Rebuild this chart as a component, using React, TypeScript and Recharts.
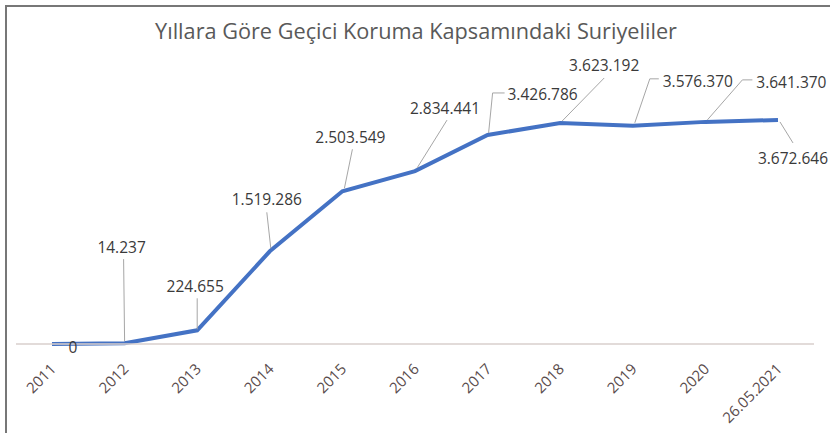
import React from 'react';
import { LineChart, Line, XAxis, YAxis, LabelList } from 'recharts';

const TITLE = 'Yıllara Göre Geçici Koruma Kapsamındaki Suriyeliler';
const categories = ['2011', '2012', '2013', '2014', '2015', '2016', '2017', '2018', '2019', '2020', '26.05.2021'];
const values = [0, 14237, 224655, 1519286, 2503549, 2834441, 3426786, 3623192, 3576370, 3641370, 3672646];

const data = categories.map((c, i) => ({ year: c, value: values[i] }));

const fmt = (v: number) => String(v).replace(/\B(?=(\d{3})+(?!\d))/g, '.');

// label layout: text centre offset from point, and leader polyline (relative to point)
const LABEL_LAYOUT: { dx: number; dy: number; leader: [number, number][] }[] = [
  { dx: 21, dy: 3, leader: [] },
  { dx: -3, dy: -96, leader: [[-1, -84], [0, -2]] },
  { dx: -2, dy: -44, leader: [[0, -32], [0, -1]] },
  { dx: -3, dy: -52, leader: [[-3, -39], [1, -3]] },
  { dx: 8, dy: -54, leader: [[10, -42], [2, -3]] },
  { dx: 30, dy: -63, leader: [[32, -51], [2, -3]] },
  { dx: 55, dy: -41, leader: [[17, -42], [5, -42], [1, -2]] },
  { dx: 44, dy: -58, leader: [[44, -45], [2, -2]] },
  { dx: 65, dy: -45, leader: [[26, -47], [17, -47], [2, -3]] },
  { dx: 86, dy: -40, leader: [[47, -42], [37, -42], [2, -2]] },
  { dx: 15, dy: 38, leader: [[2, 2], [15, 23]] },
];

const DataLabel = (props: any) => {
  const { x, y, value, index } = props;
  const l = LABEL_LAYOUT[index];
  if (!l || x == null || y == null) return null;
  const pts = l.leader.map(([a, b]) => `${x + a},${y + b}`).join(' ');
  return (
    <g>
      {l.leader.length > 0 && (
        <polyline points={pts} fill="none" stroke="#a6a6a6" strokeWidth={1} />
      )}
      <text
        x={x + l.dx}
        y={y + l.dy}
        textAnchor="middle"
        dominantBaseline="central"
        fill="#3a3a3a"
        fontSize={15.5}
        fontFamily="'Open Sans', sans-serif"
      >
        {fmt(value)}
      </text>
    </g>
  );
};

const Tick = (props: any) => {
  const { x, y, payload } = props;
  const tx = x + 5;
  const ty = y + 18;
  return (
    <text
      x={tx}
      y={ty}
      textAnchor="end"
      fill="#5a4c4c"
      fontSize={15}
      fontFamily="'Open Sans', sans-serif"
      transform={`rotate(-45, ${tx}, ${ty})`}
    >
      {payload.value}
    </text>
  );
};

export default function App() {
  return (
    <div style={{ position: 'absolute', left: 0, top: 0, width: 830, height: 433, background: '#fff', overflow: 'hidden' }}>
      <div
        style={{
          position: 'absolute',
          left: 5,
          top: 5,
          width: 900,
          height: 500,
          borderLeft: '2px solid #777',
          borderTop: '2px solid #777',
        }}
      />
      <div
        style={{
          position: 'absolute',
          left: 0,
          top: 15,
          width: 832,
          textAlign: 'center',
          fontFamily: "'Open Sans', sans-serif",
          fontSize: 21.7,
          color: '#595959',
          lineHeight: '32px',
        }}
      >
        {TITLE}
      </div>
      <div style={{ position: 'absolute', left: 0, top: 0 }}>
        <LineChart width={830} height={433} data={data} margin={{ top: 100, right: 16, bottom: 29, left: 16 }}>
          <XAxis
            dataKey="year"
            height={60}
            interval={0}
            padding={{ left: 36, right: 36 }}
            axisLine={{ stroke: '#d8cfcc', strokeWidth: 1.5 }}
            tickLine={false}
            tick={<Tick />}
          />
          <YAxis hide domain={[0, 4000000]} />
          <Line
            type="linear"
            dataKey="value"
            stroke="#4472c4"
            strokeWidth={4}
            dot={false}
            isAnimationActive={false}
          >
            <LabelList dataKey="value" content={<DataLabel />} />
          </Line>
        </LineChart>
      </div>
    </div>
  );
}
